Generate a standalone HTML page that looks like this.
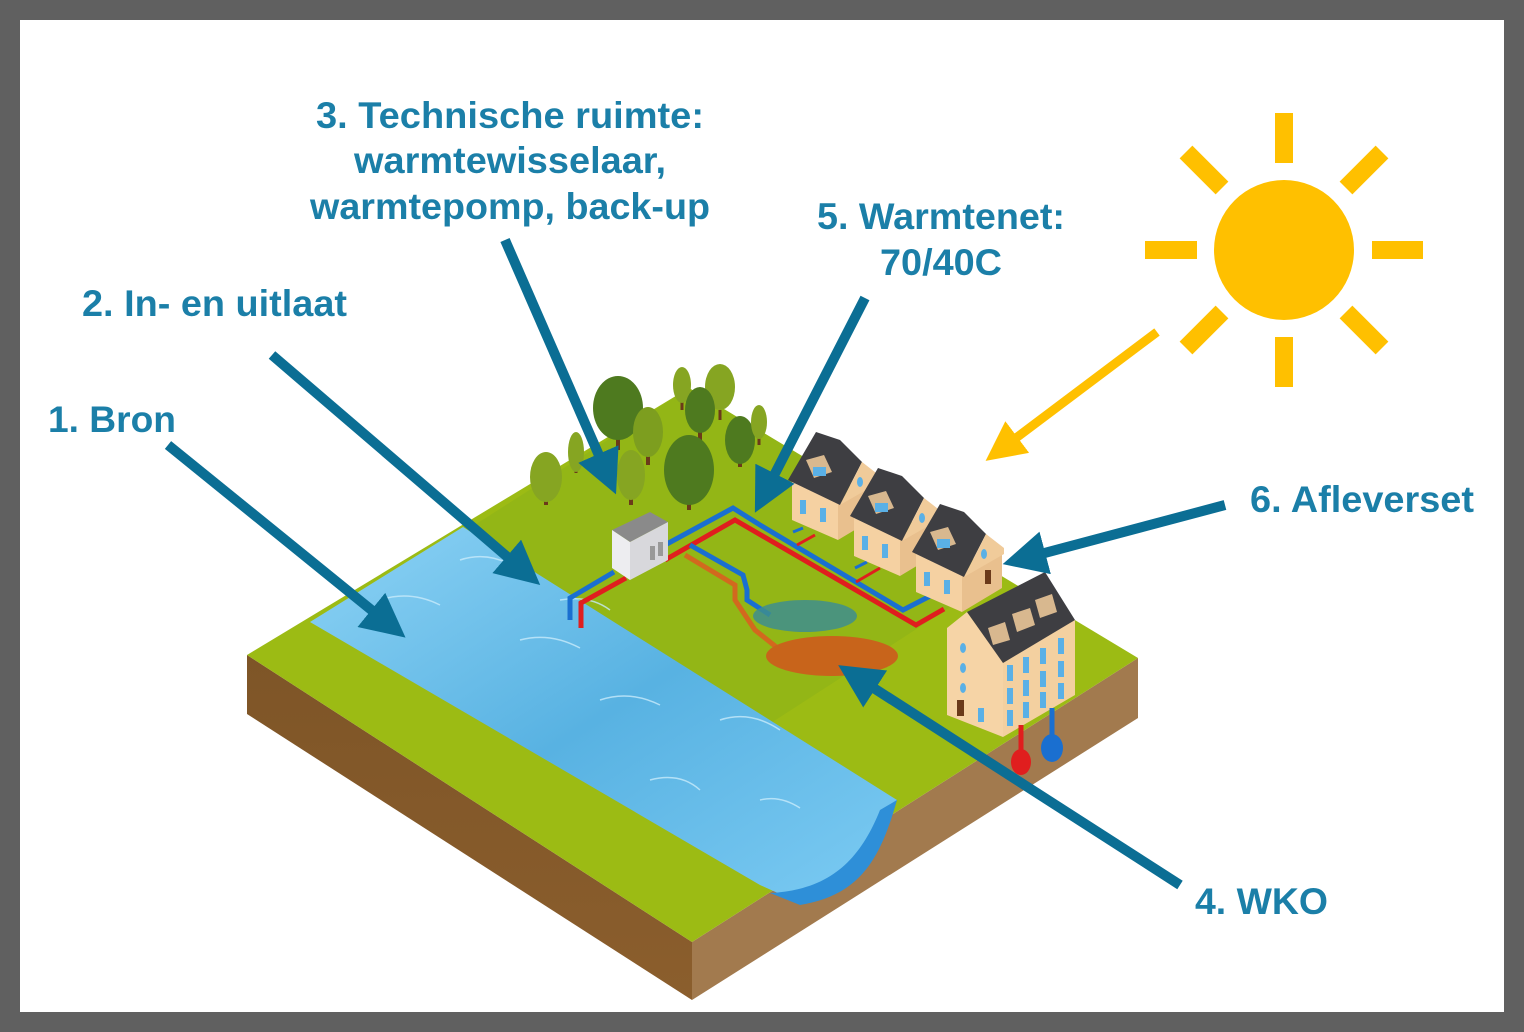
<!DOCTYPE html>
<html><head><meta charset="utf-8"><style>
html,body{margin:0;padding:0;background:#606060;}
svg{display:block;}
text{font-family:"Liberation Sans",Arial,sans-serif;font-weight:bold;fill:#1B7FA8;font-size:37px;}
</style></head><body>
<svg width="1524" height="1032" viewBox="0 0 1524 1032" xmlns="http://www.w3.org/2000/svg">
<defs>
<linearGradient id="riv" x1="0" y1="0" x2="1" y2="1">
<stop offset="0" stop-color="#8DD3F5"/><stop offset="0.5" stop-color="#58B2E2"/><stop offset="1" stop-color="#7CCBF3"/></linearGradient>
<linearGradient id="soilL" x1="0" y1="0" x2="0" y2="1"><stop offset="0" stop-color="#7E5527"/><stop offset="1" stop-color="#8B5E2D"/></linearGradient>
<marker id="ah" markerWidth="4.4" markerHeight="4.4" refX="2.4" refY="2.2" orient="auto" markerUnits="strokeWidth"><path d="M0,0 L4.4,2.2 L0,4.4 Z" fill="#0B6E94"/></marker>
<marker id="ay" markerWidth="4.4" markerHeight="4.4" refX="2.4" refY="2.2" orient="auto" markerUnits="strokeWidth"><path d="M0,0 L4.4,2.2 L0,4.4 Z" fill="#FFC000"/></marker>
</defs>
<rect x="20" y="20" width="1484" height="992" fill="#fff"/>

<!-- block -->
<polygon points="247,655 692,942 692,1000 247,714" fill="url(#soilL)"/>
<polygon points="692,942 1138,658 1138,718 692,1000" fill="#A27A4E"/>
<polygon points="247,655 689,388 1138,658 692,942" fill="#9CBB14"/>
<polygon points="420,560 689,388 1000,575 760,730" fill="#8DB317" opacity="0.6"/>
<!-- river -->
<path d="M310,622 L463,527 L897,800 L880,830 C860,880 840,895 800,903 L760,885 Z" fill="url(#riv)"/>
<path d="M897,800 C880,860 860,895 800,905 L770,893 C830,890 860,860 880,810 Z" fill="#2E8FD8"/>
<g stroke="#C8EBFB" stroke-width="1.5" fill="none" opacity="0.8">
<path d="M380,600 q30,-10 60,5"/><path d="M460,560 q30,-10 60,10"/><path d="M520,640 q30,-8 60,8"/><path d="M600,700 q30,-10 60,5"/><path d="M650,780 q30,-8 50,10"/><path d="M720,720 q30,-10 60,10"/><path d="M760,800 q20,-5 40,8"/><path d="M560,600 q30,-5 50,10"/>
</g>

<!-- trees -->
<g>
<line x1="618" y1="430" x2="618" y2="450" stroke="#6B3A1A" stroke-width="4"/><ellipse cx="618" cy="408" rx="25" ry="32" fill="#4E7A1F"/>
<line x1="546" y1="490" x2="546" y2="505" stroke="#6B3A1A" stroke-width="4"/><ellipse cx="546" cy="477" rx="16" ry="25" fill="#86A522"/>
<line x1="576" y1="460" x2="576" y2="473" stroke="#6B3A1A" stroke-width="3"/><ellipse cx="576" cy="452" rx="8" ry="20" fill="#86A522"/>
<line x1="648" y1="450" x2="648" y2="465" stroke="#6B3A1A" stroke-width="4"/><ellipse cx="648" cy="432" rx="15" ry="25" fill="#7D9E1F"/>
<line x1="682" y1="395" x2="682" y2="410" stroke="#6B3A1A" stroke-width="3"/><ellipse cx="682" cy="385" rx="9" ry="18" fill="#86A522"/>
<line x1="720" y1="410" x2="720" y2="420" stroke="#6B3A1A" stroke-width="3"/><ellipse cx="720" cy="387" rx="15" ry="23" fill="#86A522"/>
<line x1="700" y1="425" x2="700" y2="440" stroke="#6B3A1A" stroke-width="4"/><ellipse cx="700" cy="410" rx="15" ry="23" fill="#4E7A1F"/>
<line x1="631" y1="490" x2="631" y2="505" stroke="#6B3A1A" stroke-width="4"/><ellipse cx="631" cy="475" rx="14" ry="25" fill="#86A522"/>
<line x1="689" y1="495" x2="689" y2="510" stroke="#6B3A1A" stroke-width="4"/><ellipse cx="689" cy="470" rx="25" ry="35" fill="#4E7A1F"/>
<line x1="740" y1="455" x2="740" y2="467" stroke="#6B3A1A" stroke-width="4"/><ellipse cx="740" cy="440" rx="15" ry="24" fill="#4E7A1F"/>
<line x1="759" y1="430" x2="759" y2="445" stroke="#6B3A1A" stroke-width="3"/><ellipse cx="759" cy="422" rx="8" ry="17" fill="#86A522"/>
</g>

<!-- pipes -->
<g fill="none" stroke-width="5" stroke-linejoin="miter">
<polyline points="570,620 570,598 614,572" stroke="#1A6FD0"/>
<polyline points="581,628 581,603 626,578" stroke="#E01E1E"/>
<polyline points="665,545 733,508 760,525 903,610 938,592" stroke="#1A6FD0"/>
<polyline points="665,560 735,520 916,625 944,609" stroke="#E01E1E"/>
<polyline points="690,545 743,575 747,590 747,600 770,615" stroke="#1A6FD0"/>
<polyline points="685,555 735,585 735,600 755,630 780,650" stroke="#D2691E"/>
<g stroke-width="3"><line x1="793" y1="532" x2="803" y2="528" stroke="#1A6FD0"/><line x1="797" y1="545" x2="815" y2="535" stroke="#E01E1E"/><line x1="855" y1="568" x2="867" y2="562" stroke="#1A6FD0"/><line x1="856" y1="582" x2="880" y2="568" stroke="#E01E1E"/></g>
</g>
<ellipse cx="805" cy="616" rx="52" ry="16" fill="#3E8E8E" opacity="0.85"/>
<ellipse cx="832" cy="656" rx="66" ry="20" fill="#C8641B"/>

<!-- technical building -->
<polygon points="612,530 650,512 668,522 630,542" fill="#8A8A8A"/>
<polygon points="612,530 630,542 630,580 612,568" fill="#EDEDF0"/>
<polygon points="630,542 668,522 668,560 630,580" fill="#D8D8DC"/>
<rect x="650" y="546" width="5" height="14" fill="#999"/><rect x="658" y="542" width="5" height="14" fill="#999"/>

<!-- houses -->
<g id="h1">
<polygon points="838,500 878,476 878,516 838,540" fill="#E9C08E"/>
<polygon points="792,478 838,500 838,540 792,520" fill="#F5D1A2"/>
<polygon points="816,432 788,480 840,505 862,462 840,440" fill="#3E3E42"/>
<polygon points="862,462 840,505 880,482 880,476" fill="#F0CB9A"/>
<polygon points="806,460 824,455 832,472 814,478" fill="#D8B88F"/>
<rect x="813" y="467" width="13" height="9" fill="#5AB0E6"/>
<rect x="800" y="500" width="6" height="14" fill="#5AB0E6"/><rect x="820" y="508" width="6" height="14" fill="#5AB0E6"/>
<ellipse cx="860" cy="482" rx="3" ry="5" fill="#5AB0E6"/>
</g>
<use href="#h1" transform="translate(62,36)"/>
<use href="#h1" transform="translate(124,72)"/>
<rect x="985" y="570" width="6" height="14" fill="#6B3A1A"/>

<!-- tall building -->
<polygon points="1003,660 1075,620 1075,695 1003,737" fill="#F3D0A0"/>
<polygon points="947,628 967,612 1003,662 1003,737 947,715" fill="#F6D4A6"/>
<polygon points="967,612 1045,572 1075,620 1003,663" fill="#3E3E42"/>
<g fill="#D8B88F"><polygon points="988,628 1005,622 1010,640 993,645"/><polygon points="1012,614 1030,608 1035,625 1017,632"/><polygon points="1035,600 1052,594 1057,612 1040,618"/></g>
<g fill="#5AB0E6">
<rect x="1007" y="665" width="6" height="16"/><rect x="1023" y="657" width="6" height="16"/><rect x="1040" y="648" width="6" height="16"/><rect x="1058" y="638" width="6" height="16"/>
<rect x="1007" y="688" width="6" height="16"/><rect x="1023" y="680" width="6" height="16"/><rect x="1040" y="671" width="6" height="16"/><rect x="1058" y="661" width="6" height="16"/>
<rect x="1007" y="710" width="6" height="16"/><rect x="1023" y="702" width="6" height="16"/><rect x="1040" y="692" width="6" height="16"/><rect x="1058" y="683" width="6" height="16"/>
<ellipse cx="963" cy="648" rx="3" ry="5"/><ellipse cx="963" cy="668" rx="3" ry="5"/><ellipse cx="963" cy="688" rx="3" ry="5"/><rect x="978" y="708" width="6" height="14"/>
</g>
<rect x="957" y="700" width="7" height="16" fill="#6B3A1A"/>
<g stroke-width="5" fill="none"><line x1="1021" y1="725" x2="1021" y2="755" stroke="#E01E1E"/><line x1="1052" y1="708" x2="1052" y2="740" stroke="#1A6FD0"/></g>
<ellipse cx="1021" cy="762" rx="10" ry="13" fill="#E01E1E"/>
<ellipse cx="1052" cy="748" rx="11" ry="14" fill="#1A6FD0"/>

<!-- sun -->
<circle cx="1284" cy="250" r="70" fill="#FFC000"/>
<g stroke="#FFC000" stroke-width="18">
<line x1="1284" y1="113" x2="1284" y2="163"/><line x1="1284" y1="337" x2="1284" y2="387"/>
<line x1="1145" y1="250" x2="1197" y2="250"/><line x1="1372" y1="250" x2="1423" y2="250"/>
<line x1="1186" y1="152" x2="1222" y2="188"/><line x1="1346" y1="312" x2="1382" y2="348"/>
<line x1="1382" y1="152" x2="1346" y2="188"/><line x1="1222" y1="312" x2="1186" y2="348"/>
</g>
<line x1="1157" y1="332" x2="1000" y2="450" stroke="#FFC000" stroke-width="9" marker-end="url(#ay)"/>

<!-- arrows -->
<g stroke="#0B6E94" stroke-width="10" fill="none">
<line x1="168" y1="445" x2="390" y2="625" marker-end="url(#ah)"/>
<line x1="272" y1="355" x2="525" y2="572" marker-end="url(#ah)"/>
<line x1="505" y1="240" x2="608" y2="476" marker-end="url(#ah)"/>
<line x1="865" y1="298" x2="764" y2="495" marker-end="url(#ah)"/>
<line x1="1225" y1="505" x2="1022" y2="559" marker-end="url(#ah)"/>
<line x1="1180" y1="885" x2="855" y2="676" marker-end="url(#ah)"/>
</g>

<!-- labels -->
<text x="510" y="128" text-anchor="middle" textLength="388" lengthAdjust="spacingAndGlyphs">3. Technische ruimte:</text>
<text x="510" y="173" text-anchor="middle" textLength="312" lengthAdjust="spacingAndGlyphs">warmtewisselaar,</text>
<text x="510" y="219" text-anchor="middle" textLength="400" lengthAdjust="spacingAndGlyphs">warmtepomp, back-up</text>
<text x="941" y="229" text-anchor="middle" textLength="248" lengthAdjust="spacingAndGlyphs">5. Warmtenet:</text>
<text x="941" y="275" text-anchor="middle" textLength="122" lengthAdjust="spacingAndGlyphs">70/40C</text>
<text x="82" y="316" textLength="265" lengthAdjust="spacingAndGlyphs">2. In- en uitlaat</text>
<text x="48" y="432" textLength="128" lengthAdjust="spacingAndGlyphs">1. Bron</text>
<text x="1250" y="512" textLength="224" lengthAdjust="spacingAndGlyphs">6. Afleverset</text>
<text x="1195" y="914" textLength="133" lengthAdjust="spacingAndGlyphs">4. WKO</text>
</svg>
</body></html>
